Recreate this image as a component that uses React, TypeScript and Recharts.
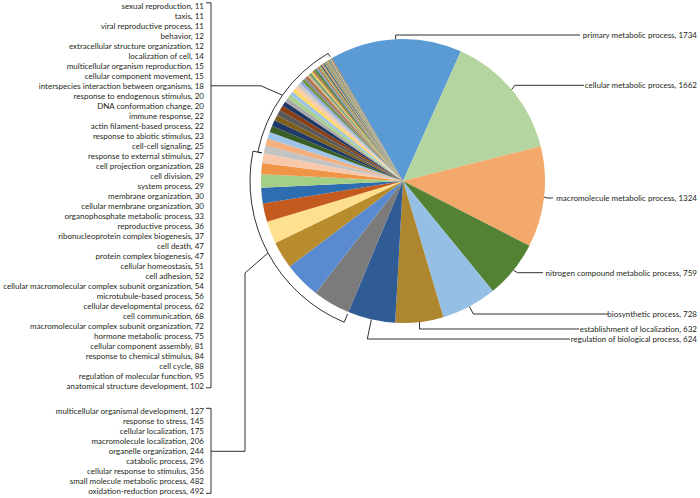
import React from 'react';
import { PieChart, Pie, Cell } from 'recharts';

// slices in clockwise order, starting at the top
const mainCategories = [
  'primary metabolic process',
  'cellular metabolic process',
  'macromolecule metabolic process',
  'nitrogen compound metabolic process',
  'biosynthetic process',
  'establishment of localization',
  'regulation of biological process',
];
const mainValues = [1734, 1662, 1324, 759, 728, 632, 624];

const midCategories = [
  'oxidation-reduction process',
  'small molecule metabolic process',
  'cellular response to stimulus',
  'catabolic process',
  'organelle organization',
  'macromolecule localization',
  'cellular localization',
  'response to stress',
  'multicellular organismal development',
];
const midValues = [492, 482, 356, 296, 244, 206, 175, 145, 127];

const minorCategories = [
  'anatomical structure development',
  'regulation of molecular function',
  'cell cycle',
  'response to chemical stimulus',
  'cellular component assembly',
  'hormone metabolic process',
  'macromolecular complex subunit organization',
  'cell communication',
  'cellular developmental process',
  'microtubule-based process',
  'cellular macromolecular complex subunit organization',
  'cell adhesion',
  'cellular homeostasis',
  'protein complex biogenesis',
  'cell death',
  'ribonucleoprotein complex biogenesis',
  'reproductive process',
  'organophosphate metabolic process',
  'cellular membrane organization',
  'membrane organization',
  'system process',
  'cell division',
  'cell projection organization',
  'response to external stimulus',
  'cell-cell signaling',
  'response to abiotic stimulus',
  'actin filament-based process',
  'immune response',
  'DNA conformation change',
  'response to endogenous stimulus',
  'interspecies interaction between organisms',
  'cellular component movement',
  'multicellular organism reproduction',
  'localization of cell',
  'extracellular structure organization',
  'behavior',
  'viral reproductive process',
  'taxis',
  'sexual reproduction',
];
const minorValues = [
  102, 95, 88, 84, 81, 75, 72, 68, 62, 56, 54, 52, 51, 47, 47, 37, 36, 33, 30, 30,
  29, 29, 28, 27, 25, 23, 22, 22, 20, 20, 18, 15, 15, 14, 12, 12, 11, 11, 11,
];

const COLORS = [
  '#5B9BD5', '#B5D5A0', '#F3A96B', '#548235', '#95BFE4', '#AE862F', '#2F5C94',
  '#7B7B7B', '#5A8BD0', '#B88C2D', '#FEE08E', '#C55A1F', '#2E6DB0', '#A3CF87', '#F09548', '#F7C9AA',
  '#C3C3C3', '#F4AF7E', '#9DC3E6', '#3A5F26', '#1F3A66', '#7D5F1B', '#5A5A5A', '#8A3E14', '#203864',
  '#A9A9A9', '#A9D18E', '#9DC3E6', '#FFD966', '#F8CBAD', '#C9C9C9', '#8FAADC', '#6D8F3E', '#8C8C8C',
  '#B0683A', '#D2B48C', '#5E9E78', '#E6C35C', '#A57D4E', '#4E7F3A', '#7C9CC8', '#C07A4E', '#9AB86A',
  '#5C5C5C', '#D9A86C', '#3F6B8F', '#B8A060', '#6E8B4E', '#A0A0A0', '#C4965A', '#5A7A3A', '#8FA8C0',
  '#9E7B4A', '#C8B88A', '#7A6A4A',
];

// layout of the callouts on the right
const rightLabelY = [35, 85.3, 198, 272.7, 314, 329, 339];
const rightLineEnd = [580, 584, 553, 543, 608, 579, 570];
const rightKneeDx = [0, 3, 3, 4, 4, 0, -4];

const data = [
  ...mainCategories.map((name, i) => ({ name, value: mainValues[i] })),
  ...midCategories.map((name, i) => ({ name, value: midValues[i] })),
  ...minorCategories.map((name, i) => ({ name, value: minorValues[i] })),
];

const START_ANGLE = 120;
const RADIAN = Math.PI / 180;
const total = data.reduce((s, d) => s + d.value, 0);
const sum = (arr: number[]) => arr.reduce((s, v) => s + v, 0);
const angleAt = (cum: number) => START_ANGLE - (cum / total) * 360;

const polar = (cx: number, cy: number, r: number, a: number) => ({
  x: cx + r * Math.cos(a * RADIAN),
  y: cy - r * Math.sin(a * RADIAN),
});

const FONT = 'Lato, "Noto Sans", sans-serif';
const TEXT = '#231F20';
const LINE = '#1A1A1A';
const LIST_X = 204;
const BRACKET_X = 211;
const minorRow = (r: number) => 5.8 + r * 10;
const midRow = (r: number) => 411.3 + r * 10;

const ListText = ({ y, children }: { y: number; children: React.ReactNode }) => (
  <text x={LIST_X} y={y} textAnchor="end" dominantBaseline="central" fontSize={8} fontFamily={FONT} fill={TEXT}>
    {children}
  </text>
);

// arc bracket around a group of slices plus the square bracket at the list
const GroupBracket = ({ cx, cy, a1, a2, radius, inner, topY, bottomY, leader }: any) => {
  const p1 = polar(cx, cy, radius, a1);
  const p2 = polar(cx, cy, radius, a2);
  const t1 = polar(cx, cy, inner, a1);
  const t2 = polar(cx, cy, inner, a2);
  const large = Math.abs(a1 - a2) > 180 ? 1 : 0;
  return (
    <g fill="none" stroke={LINE} strokeWidth={0.9}>
      <path d={`M${t1.x},${t1.y} L${p1.x},${p1.y} A${radius},${radius} 0 ${large} 1 ${p2.x},${p2.y} L${t2.x},${t2.y}`} />
      <path d={`M${BRACKET_X - 5},${topY} L${BRACKET_X},${topY} L${BRACKET_X},${bottomY} L${BRACKET_X - 5},${bottomY}`} />
      <polyline points={leader.map((p: any) => `${p.x},${p.y}`).join(' ')} />
    </g>
  );
};

const renderLabel = (props: any) => {
  const { cx, cy, midAngle, outerRadius, index } = props;
  const d = data[index];
  const text = `${d.name}, ${d.value}`;

  if (index < mainCategories.length) {
    const p = polar(cx, cy, outerRadius, midAngle);
    const y = rightLabelY[index];
    const knee = { x: p.x + rightKneeDx[index], y };
    return (
      <g>
        <polyline
          points={`${p.x},${p.y} ${knee.x},${knee.y} ${rightLineEnd[index]},${y}`}
          fill="none"
          stroke={LINE}
          strokeWidth={0.9}
        />
        <text x={697} y={y} textAnchor="end" dominantBaseline="central" fontSize={8} fontFamily={FONT} fill={TEXT}>
          {text}
        </text>
      </g>
    );
  }

  const midStart = mainCategories.length;
  const minorStart = midStart + midCategories.length;

  if (index < minorStart) {
    const row = minorStart - 1 - index;
    const y = midRow(row);
    let extra = null;
    if (index === midStart) {
      const a1 = angleAt(sum(mainValues));
      const a2 = angleAt(sum(mainValues) + sum(midValues));
      const start = polar(cx, cy, 153, (a1 + a2) / 2);
      const legY = midRow(4);
      extra = (
        <GroupBracket
          cx={cx}
          cy={cy}
          a1={a1}
          a2={a2}
          radius={153}
          inner={outerRadius + 2}
          topY={midRow(0) - 3}
          bottomY={midRow(midCategories.length - 1) + 2}
          leader={[start, { x: 245, y: 273 }, { x: 245, y: legY }, { x: BRACKET_X, y: legY }]}
        />
      );
    }
    return (
      <g>
        {extra}
        <ListText y={y}>{text}</ListText>
      </g>
    );
  }

  const row = data.length - 1 - index;
  const y = minorRow(row);
  let extra = null;
  if (index === minorStart) {
    const a1 = angleAt(sum(mainValues) + sum(midValues));
    const a2 = angleAt(total) + 0.4;
    const start = polar(cx, cy, 148, (a1 + a2) / 2);
    const legY = minorRow(8);
    extra = (
      <GroupBracket
        cx={cx}
        cy={cy}
        a1={a1}
        a2={a2}
        radius={148}
        inner={outerRadius + 2}
        topY={minorRow(0) - 3}
        bottomY={minorRow(minorCategories.length - 1) + 2}
        leader={[start, { x: 261, y: legY }, { x: BRACKET_X, y: legY }]}
      />
    );
  }
  return (
    <g>
      {extra}
      <ListText y={y}>{text}</ListText>
    </g>
  );
};

export default function App() {
  return (
    <div style={{ position: 'absolute', left: 0, top: 0, width: 700, height: 498, background: '#fff' }}>
      <PieChart width={700} height={498} margin={{ top: 0, right: 0, bottom: 0, left: 0 }}>
        <Pie
          data={data}
          dataKey="value"
          nameKey="name"
          cx={403}
          cy={181}
          outerRadius={142}
          startAngle={START_ANGLE}
          endAngle={START_ANGLE - 360}
          stroke="none"
          label={renderLabel}
          labelLine={false}
          isAnimationActive={false}
        >
          {data.map((d, i) => (
            <Cell key={d.name} fill={COLORS[i % COLORS.length]} />
          ))}
        </Pie>
      </PieChart>
    </div>
  );
}
